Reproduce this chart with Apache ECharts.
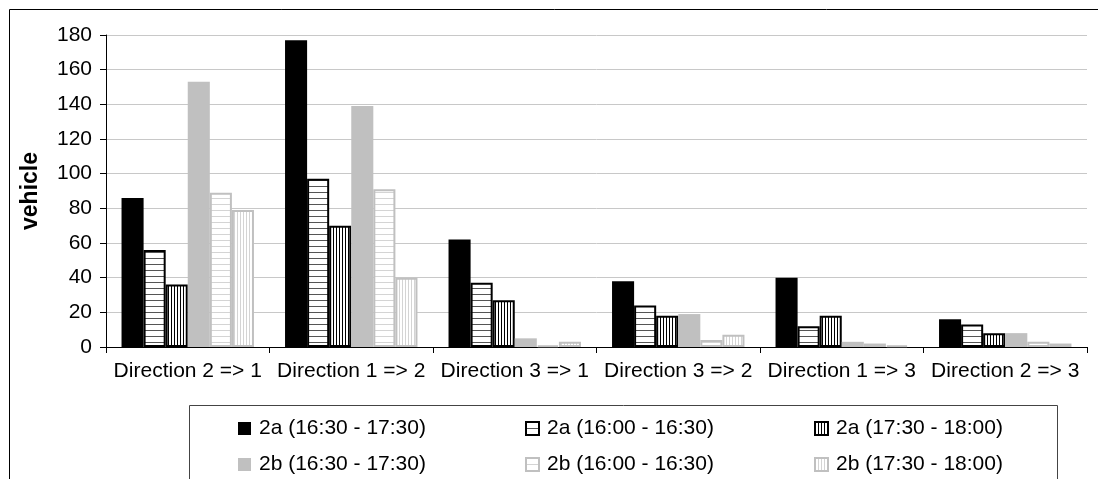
<!DOCTYPE html>
<html>
<head>
<meta charset="utf-8">
<script src="https://cdn.jsdelivr.net/npm/echarts@6/dist/echarts.min.js"></script>
<style>
  html, body { margin: 0; padding: 0; background: #fff; }
  #chart { width: 1098px; height: 479px; }
</style>
</head>
<body>
<div id="chart"></div>
<script>
// ---- data ----
const categories = ['Direction 2 => 1', 'Direction 1 => 2', 'Direction 3 => 1', 'Direction 3 => 2', 'Direction 1 => 3', 'Direction 2 => 3'];
const seriesNames = ['2a (16:30 - 17:30)', '2a (16:00 - 16:30)', '2a (17:30 - 18:00)', '2b (16:30 - 17:30)', '2b (16:00 - 16:30)', '2b (17:30 - 18:00)'];
const a_1630 = [86, 177, 62, 38, 40, 16];
const a_1600 = [56, 97, 37, 24, 12, 13];
const a_1730 = [36, 70, 27, 18, 18, 8];
const b_1630 = [153, 139, 5, 19, 3, 8];
const b_1600 = [89, 91, 1, 4, 2, 3];
const b_1730 = [79, 40, 3, 7, 1, 2];
const yTicks = { min: 0, max: 180, interval: 20 };

// ---- patterns ----
function stripes(dir, period, lineColor, lineW) {
  const c = document.createElement('canvas');
  c.width = period; c.height = period;
  const g = c.getContext('2d');
  g.fillStyle = '#ffffff'; g.fillRect(0, 0, period, period);
  g.fillStyle = lineColor;
  if (dir === 'h') g.fillRect(0, 0, period, lineW);
  else g.fillRect(0, 0, lineW, period);
  return { image: c, repeat: 'repeat' };
}
const styles = [
  { color: '#000000' },
  { color: stripes('h', 6, '#555555', 1), borderColor: '#000', borderWidth: 2 },
  { color: stripes('v', 3, '#000000', 1), borderColor: '#000', borderWidth: 2 },
  { color: '#c0c0c0' },
  { color: stripes('h', 6, '#d4d4d4', 1), borderColor: '#c0c0c0', borderWidth: 2 },
  { color: stripes('v', 3, '#d4d4d4', 1), borderColor: '#c0c0c0', borderWidth: 2 }
];
const values = [a_1630, a_1600, a_1730, b_1630, b_1600, b_1730];

const FONT = 'Liberation Sans, Arial, sans-serif';
const chart = echarts.init(document.getElementById('chart'), null, { renderer: 'canvas' });

const legendPos = [
  { left: 238, top: 418 }, { left: 525, top: 418 }, { left: 814, top: 418 },
  { left: 238, top: 454 }, { left: 525, top: 454 }, { left: 814, top: 454 }
];

chart.setOption({
  animation: false,
  backgroundColor: '#fff',
  graphic: [
    { type: 'rect', left: 7, top: 7, shape: { width: 1200, height: 600 }, style: { fill: 'none', stroke: '#000', lineWidth: 1 }, z: -1 },
    { type: 'rect', left: 187, top: 403, shape: { width: 868, height: 200 }, style: { fill: 'none', stroke: '#444', lineWidth: 1 }, z: -1 }
  ],
  grid: { left: 106, right: 11, top: 35, bottom: 132, containLabel: false },
  legend: legendPos.map((p, i) => ({
    data: [seriesNames[i]],
    left: p.left, top: p.top,
    icon: 'rect', itemWidth: 13, itemHeight: 13, itemGap: 0,
    textStyle: { fontFamily: FONT, fontSize: 21, color: '#000', padding: [0, 0, 0, 3] },
    padding: 0, selectedMode: false
  })),
  xAxis: {
    type: 'category', data: categories,
    axisLine: { lineStyle: { color: '#000', width: 1 } },
    axisTick: { show: true, length: 6, lineStyle: { color: '#000' } },
    axisLabel: { fontFamily: FONT, fontSize: 21, color: '#000', margin: 14, interval: 0 }
  },
  yAxis: {
    type: 'value', min: yTicks.min, max: yTicks.max, interval: yTicks.interval,
    name: 'vehicle', nameLocation: 'middle', nameGap: 64,
    nameTextStyle: { fontFamily: FONT, fontSize: 23, fontWeight: 'bold', color: '#000' },
    axisLine: { show: true, lineStyle: { color: '#000', width: 1 } },
    axisTick: { show: true, length: 6, lineStyle: { color: '#000' } },
    axisLabel: { fontFamily: FONT, fontSize: 21, color: '#000', margin: 14 },
    splitLine: { lineStyle: { color: '#c8c8c8', width: 1 } }
  },
  series: values.map((v, i) => ({
    name: seriesNames[i], type: 'bar', data: v,
    barGap: '0%', barCategoryGap: '19%',
    itemStyle: styles[i]
  }))
});
</script>
</body>
</html>
